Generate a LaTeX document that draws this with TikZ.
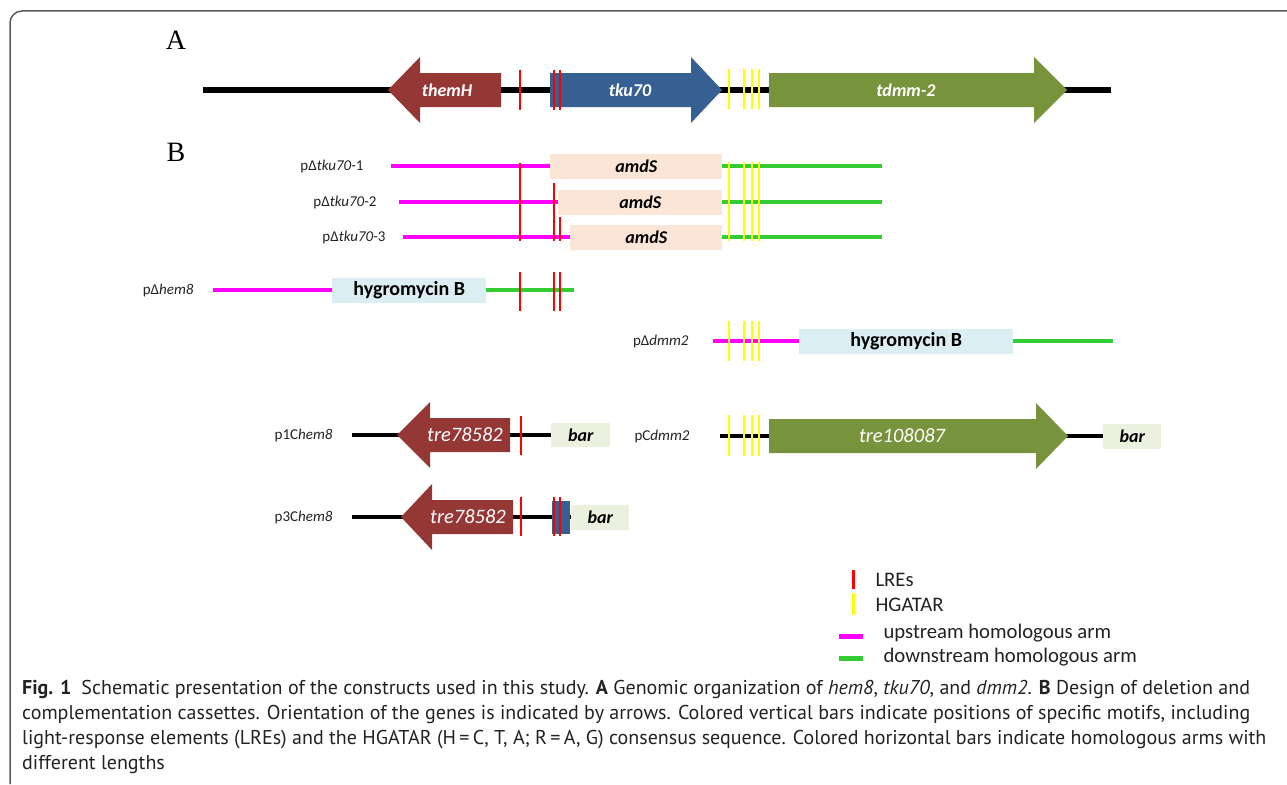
\documentclass[tikz,border=0pt]{standalone}
\usepackage{fontspec}
\setmainfont{Carlito}
\newfontfamily\capfont{PT Sans}
\newfontfamily\panelfont{Liberation Serif}
\usepackage{tikz}

\definecolor{genered}{HTML}{953735}
\definecolor{geneblue}{HTML}{376092}
\definecolor{genegreen}{HTML}{77933C}
\definecolor{armgreen}{HTML}{33CC33}
\definecolor{armpink}{HTML}{FF00FF}
\definecolor{motifred}{HTML}{FF0000}
\definecolor{motifyellow}{HTML}{FFFF00}
\definecolor{amdsfill}{HTML}{FBE5D6}
\definecolor{hygfill}{HTML}{DAEEF3}
\definecolor{barfill}{HTML}{EBF1DE}
\definecolor{framegray}{HTML}{5A5A5A}
\definecolor{lbltext}{HTML}{222222}

\begin{document}
\begin{tikzpicture}[x=1pt,y=-1pt,
  dna/.style={line width=6pt},
  dnathin/.style={line width=4pt},
  lre/.style={motifred,line width=2.5pt},
  hgatar/.style={motifyellow,line width=2.5pt},
  uparm/.style={armpink,line width=4.5pt},
  downarm/.style={armgreen,line width=4.5pt},
  cassette/.style={inner sep=0pt,minimum height=25pt,anchor=west},
  genetxt/.style={white,font=\fontsize{18}{18}\selectfont\bfseries\itshape},
  trelbl/.style={white,font=\fontsize{20.5}{20}\selectfont\itshape},
  boxtxt/.style={font=\fontsize{18}{18}\selectfont\bfseries\itshape},
  hygtxt/.style={font=\fontsize{20}{20}\selectfont\bfseries},
  rowlbl/.style={anchor=east,text=lbltext,font=\fontsize{15}{16}\selectfont},
  leglbl/.style={anchor=west,text=lbltext,font=\fontsize{20.7}{22}\selectfont},
  captxt/.style={anchor=base west,inner sep=0pt,text=lbltext,font=\capfont\fontsize{20}{25}\selectfont}]
\useasboundingbox (0,0) rectangle (1287,784);
\draw[framegray,line width=1.5pt,rounded corners=12pt] (10,784) -- (10,11) -- (1287,11);

% A: genomic organization
\node[font=\panelfont\fontsize{28}{28}\selectfont] (lblA) at (176,40) {A};
\draw[dna] (203,90) -- (1111,90);
\fill[genered] (501,73) -- (420,73) -- (420,57) -- (388,90) -- (420,123) -- (420,107) -- (501,107) -- cycle;
\node[genetxt] (themH) at (447,90) {themH};
\fill[geneblue] (550,73) -- (691,73) -- (691,57) -- (722,90) -- (691,123) -- (691,107) -- (550,107) -- cycle;
\node[genetxt] (tku) at (630,90) {tku70};
\fill[genegreen] (769,73) -- (1034,73) -- (1034,57) -- (1067,90) -- (1034,123) -- (1034,107) -- (769,107) -- cycle;
\node[genetxt] (tdmm) at (906,90) {tdmm-2};
\draw[lre] (520,70) -- (520,110);
\draw[lre] (554,70) -- (554,110);
\draw[lre] (560,70) -- (560,110);
\foreach \x in {729,744,752,759}
  \draw[hgatar] (\x,69) -- (\x,109);

% B: deletion and complementation cassettes
\node[font=\panelfont\fontsize{28}{28}\selectfont] (lblB) at (176,152) {B};

% p-delta-tku70 1..3
\node[rowlbl] (tkuA) at (367,166) {pΔ\textit{tku70}-1};
\node[cassette,fill=amdsfill,minimum width=172pt] (amdsA) at (550,166) {};
\node[boxtxt] at (amdsA) {amdS};
\draw[uparm] (391,166) -- (amdsA.west);
\draw[downarm] (amdsA.east) -- (882,166);

\node[rowlbl] (tkuB) at (380,202) {pΔ\textit{tku70}-2};
\node[cassette,fill=amdsfill,minimum width=164pt] (amdsB) at (558,202) {};
\node[boxtxt] at (amdsB) {amdS};
\draw[uparm] (399,202) -- (amdsB.west);
\draw[downarm] (amdsB.east) -- (882,202);

\node[rowlbl] (tkuC) at (389,237) {pΔ\textit{tku70}-3};
\node[cassette,fill=amdsfill,minimum width=152pt] (amdsC) at (570,237) {};
\node[boxtxt] at (amdsC) {amdS};
\draw[uparm] (403,237) -- (amdsC.west);
\draw[downarm] (amdsC.east) -- (882,237);

\draw[lre] (520,163) -- (520,241);
\draw[lre] (554,183) -- (554,241);
\draw[lre] (560,217) -- (560,241);
\foreach \x in {729,744,752,759}
  \draw[hgatar] (\x,162) -- (\x,241);

% p-delta-hem8
\node[rowlbl] (hemdel) at (197,290) {pΔ\textit{hem8}};
\node[cassette,fill=hygfill,minimum width=154pt] (hygA) at (332,290) {};
\node[hygtxt] at (hygA) {hygromycin B};
\draw[uparm] (213,290) -- (hygA.west);
\draw[downarm] (hygA.east) -- (574,290);
\draw[lre] (520,272) -- (520,311);
\draw[lre] (554,272) -- (554,311);
\draw[lre] (560,272) -- (560,311);

% p-delta-dmm2
\node[rowlbl] (dmmdel) at (692,341) {pΔ\textit{dmm2}};
\node[cassette,fill=hygfill,minimum width=214pt] (hygB) at (799,341) {};
\node[hygtxt] at (hygB) {hygromycin B};
\draw[uparm] (713,341) -- (hygB.west);
\draw[downarm] (hygB.east) -- (1113,341);
\foreach \x in {729,744,752,759}
  \draw[hgatar] (\x,321) -- (\x,361);

% p1C-hem8
\node[rowlbl] (hemcA) at (336,435) {p1C\textit{hem8}};
\node[cassette,fill=barfill,minimum width=59pt,minimum height=24pt] (barA) at (551,435) {};
\node[boxtxt] at (barA) {bar};
\draw[dnathin] (352,435) -- (barA.west);
\fill[genered] (510,418) -- (430,418) -- (430,402) -- (397,435) -- (430,468) -- (430,452) -- (510,452) -- cycle;
\node[trelbl] (treA) at (465,435) {tre78582};
\draw[lre] (521,416) -- (521,455);

% p3C-hem8
\node[rowlbl] (hemcB) at (336,517) {p3C\textit{hem8}};
\node[cassette,fill=barfill,minimum width=58pt] (barB) at (571,517) {};
\node[boxtxt] at (barB) {bar};
\draw[dnathin] (352,517) -- (barB.west);
\fill[genered] (513,500) -- (432,500) -- (432,484) -- (401,517) -- (432,550) -- (432,534) -- (513,534) -- cycle;
\node[trelbl] (treB) at (468,517) {tre78582};
\fill[geneblue] (552,501) rectangle (570,534);
\draw[lre] (521,497) -- (521,536);
\draw[lre] (554,497) -- (554,536);
\draw[lre] (560,497) -- (560,536);

% pC-dmm2
\node[rowlbl] (dmmc) at (693,436) {pC\textit{dmm2}};
\node[cassette,fill=barfill,minimum width=58pt] (barC) at (1103,436) {};
\node[boxtxt] at (barC) {bar};
\draw[dnathin] (720,436) -- (barC.west);
\foreach \x in {729,744,752,759}
  \draw[hgatar] (\x,415) -- (\x,456);
\fill[genegreen] (769,419) -- (1036,419) -- (1036,403) -- (1068,436) -- (1036,469) -- (1036,453) -- (769,453) -- cycle;
\node[trelbl] (treC) at (902,436) {tre108087};

% legend
\draw[lre,line width=3pt] (853,570) -- (853,589);
\node[leglbl] (legA) at (872,580) {LREs};
\draw[hgatar,line width=3pt] (853,593) -- (853,615);
\node[leglbl] (legB) at (872,605) {HGATAR};
\draw[uparm,line width=5pt] (839,636) -- (863,636);
\node[leglbl] (legC) at (880,633) {upstream homologous arm};
\draw[downarm,line width=5pt] (839,658) -- (863,658);
\node[leglbl] (legD) at (880,657) {downstream homologous arm};

% caption
\node[captxt] (capA) at (22,694) {\textbf{Fig. 1}\enspace Schematic presentation of the constructs used in this study. \textbf{A} Genomic organization of \textit{hem8}, \textit{tku70}, and \textit{dmm2}. \textbf{B} Design of deletion and};
\node[captxt] (capB) at (22,719) {complementation cassettes. Orientation of the genes is indicated by arrows. Colored vertical bars indicate positions of specific motifs, including};
\node[captxt] (capC) at (22,744) {light-response elements (LREs) and the HGATAR (H\,=\,C, T, A; R\,=\,A, G) consensus sequence. Colored horizontal bars indicate homologous arms with};
\node[captxt] (capD) at (22,769) {different lengths};
\end{tikzpicture}
\end{document}
